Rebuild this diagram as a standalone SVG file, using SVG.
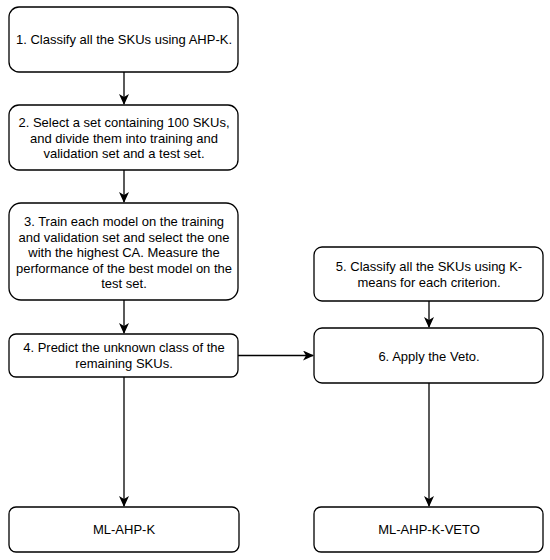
<svg xmlns="http://www.w3.org/2000/svg" width="550" height="560" viewBox="0 0 550 560">
<style>
.box{fill:#fff;stroke:#000;stroke-width:1.3}
.t{font-family:"Liberation Sans",Arial,sans-serif;font-size:13px;fill:#000;text-anchor:middle}
.c{stroke:#000;stroke-width:1.3;fill:none;marker-end:url(#ah)}
</style>
<defs>
<marker id="ah" markerWidth="12" markerHeight="10" refX="10" refY="5" orient="auto" markerUnits="userSpaceOnUse">
<path d="M0,0 L11,5 L0,10 L3,5 z" fill="#000"/>
</marker>
</defs>
<rect width="550" height="560" fill="#fff"/>
<g id="connectors">
<line class="c" x1="124" y1="72" x2="124" y2="104"/>
<line class="c" x1="124" y1="170" x2="124" y2="202"/>
<line class="c" x1="124" y1="300" x2="124" y2="333"/>
<line class="c" x1="124" y1="377" x2="124" y2="506"/>
<line class="c" x1="238" y1="355.5" x2="313" y2="355.5"/>
<line class="c" x1="429" y1="301" x2="429" y2="327"/>
<line class="c" x1="429" y1="383" x2="429" y2="506"/>
</g>
<g id="n1">
<rect class="box" x="9" y="7" width="229" height="65" rx="10"/>
<text class="t" x="124" y="44">1. Classify all the SKUs using AHP-K.</text>
</g>
<g id="n2">
<rect class="box" x="9" y="105" width="229" height="65" rx="10"/>
<text class="t" x="124" y="127">2. Select a set containing 100 SKUs,</text>
<text class="t" x="124" y="142.5">and divide them into training and</text>
<text class="t" x="124" y="158">validation set and a test set.</text>
</g>
<g id="n3">
<rect class="box" x="9" y="203" width="229" height="97" rx="12"/>
<text class="t" x="124" y="226">3. Train each model on the training</text>
<text class="t" x="124" y="241.5">and validation set and select the one</text>
<text class="t" x="124" y="257">with the highest CA. Measure the</text>
<text class="t" x="124" y="272.5">performance of the best model on the</text>
<text class="t" x="124" y="288">test set.</text>
</g>
<g id="n4">
<rect class="box" x="9" y="334" width="229" height="43" rx="7"/>
<text class="t" x="124" y="352">4. Predict the unknown class of the</text>
<text class="t" x="124" y="367.5">remaining SKUs.</text>
</g>
<g id="n5">
<rect class="box" x="314" y="247" width="229" height="54" rx="8"/>
<text class="t" x="429" y="271">5. Classify all the SKUs using K-</text>
<text class="t" x="429" y="286.5">means for each criterion.</text>
</g>
<g id="n6">
<rect class="box" x="314" y="328" width="229" height="55" rx="8"/>
<text class="t" x="429" y="360.5">6. Apply the Veto.</text>
</g>
<g id="n7">
<rect class="box" x="9" y="507" width="230" height="45" rx="7"/>
<text class="t" x="124" y="534">ML-AHP-K</text>
</g>
<g id="n8">
<rect class="box" x="314" y="507" width="229" height="45" rx="7"/>
<text class="t" x="429" y="534">ML-AHP-K-VETO</text>
</g>
</svg>
